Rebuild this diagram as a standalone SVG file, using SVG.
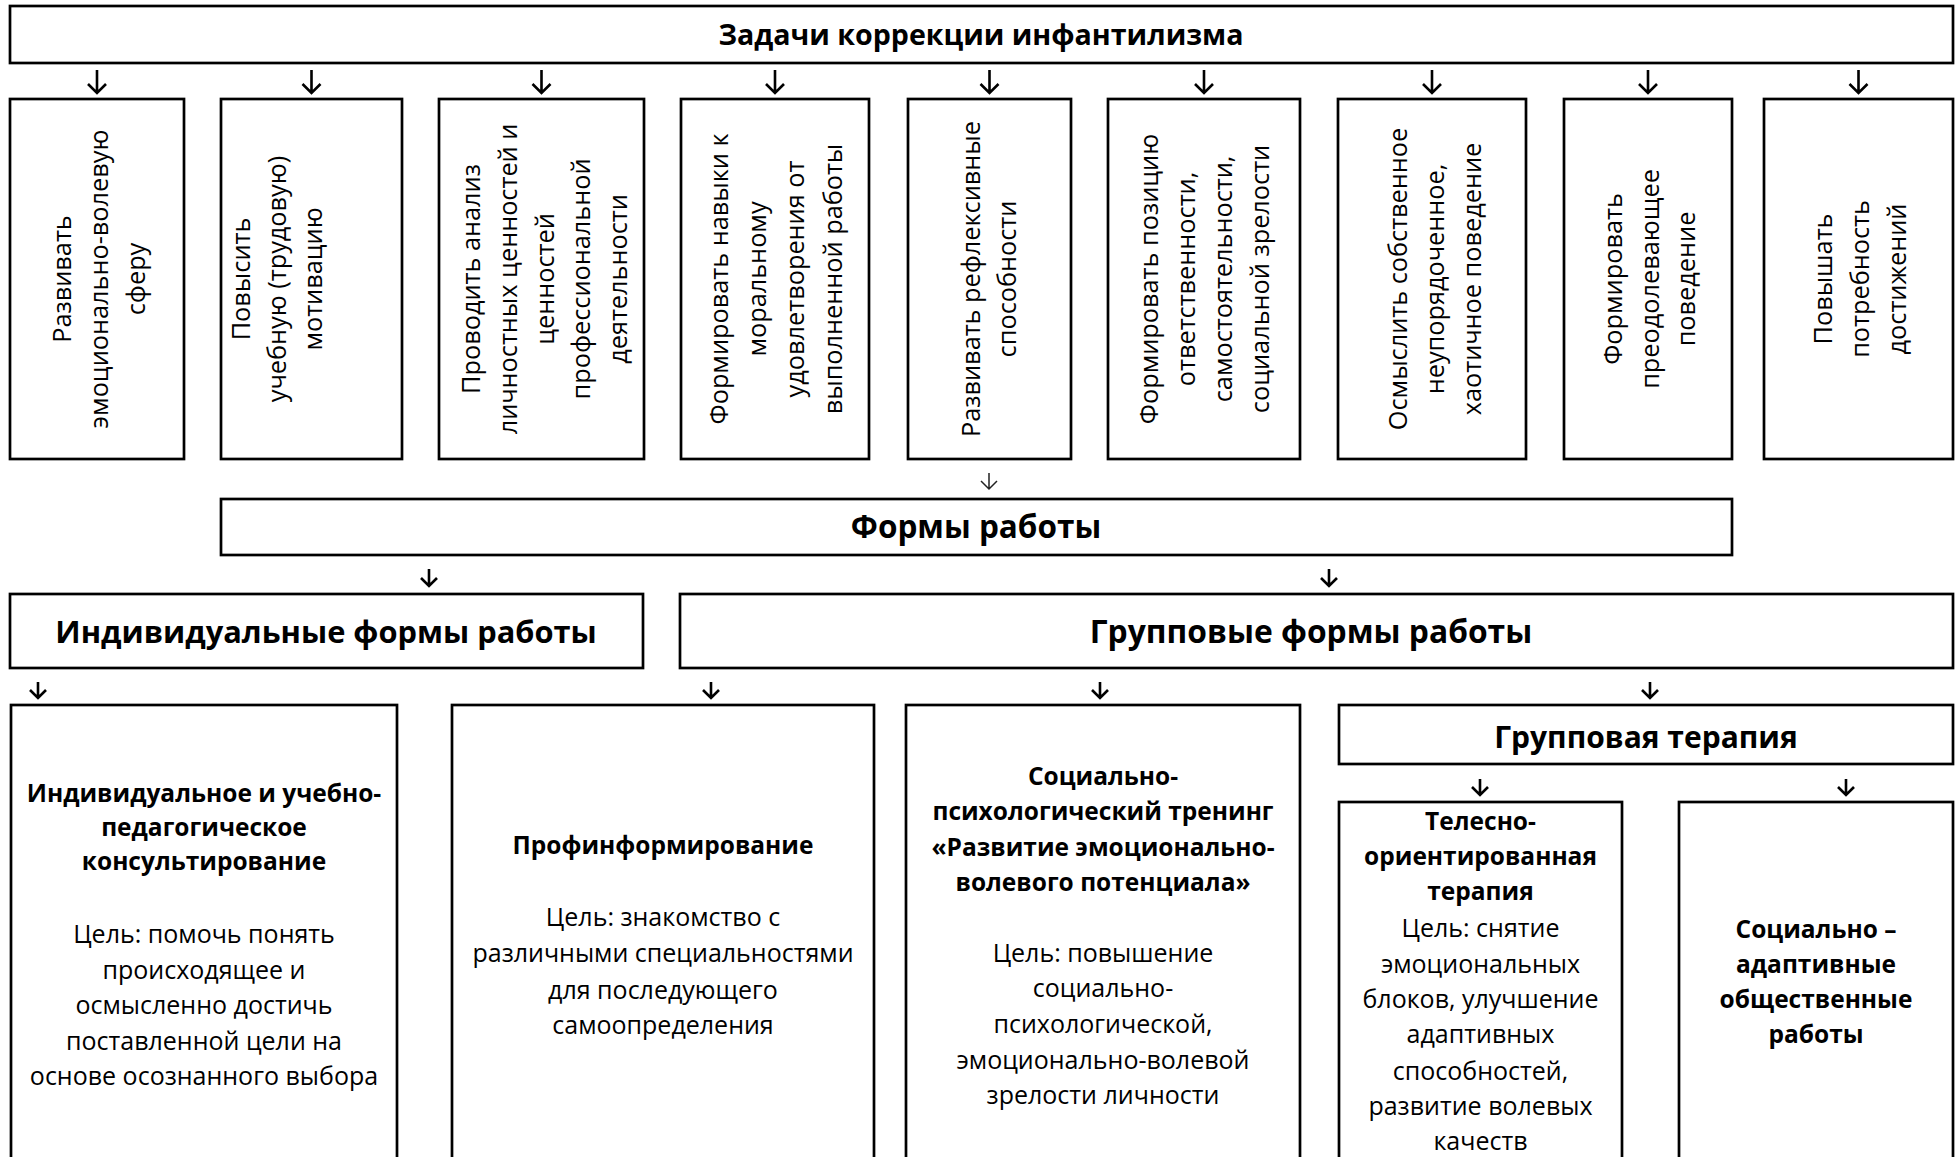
<svg xmlns="http://www.w3.org/2000/svg" width="1955" height="1157" viewBox="0 0 1955 1157">
<style>
.box{fill:#fff;stroke:#000;stroke-width:2.7}
.h{font-family:"Open Sans","Liberation Sans",sans-serif;font-weight:700;text-anchor:middle;fill:#000}
.b{font-family:"Open Sans","Liberation Sans",sans-serif;font-weight:700;font-size:24.5px;text-anchor:middle;fill:#000}
.r{font-family:"Open Sans","Liberation Sans",sans-serif;font-weight:400;font-size:25px;text-anchor:middle;fill:#000}
.v{font-family:"Open Sans","Liberation Sans",sans-serif;font-weight:400;font-size:25.3px;text-anchor:middle;fill:#000}
.arr{fill:none;stroke:#000;stroke-width:2.6}
.thin{fill:none;stroke:#222;stroke-width:1.5}
</style>
<rect width="1955" height="1157" fill="#fff"/>

<g id="title">
<rect class="box" x="10" y="6" width="1943" height="57"/>
<text class="h" x="981" y="45" font-size="28.6">Задачи коррекции инфантилизма</text>
</g>

<g id="task1">
<rect class="box" x="10" y="99" width="174" height="360"/>
<text class="v" transform="translate(0,279) rotate(-90)"><tspan x="0" y="71">Развивать</tspan><tspan x="0" y="108">эмоционально-волевую</tspan><tspan x="0" y="145">сферу</tspan></text>
</g>
<g id="task2">
<rect class="box" x="221" y="99" width="181" height="360"/>
<text class="v" transform="translate(0,279) rotate(-90)"><tspan x="0" y="250">Повысить</tspan><tspan x="0" y="286">учебную (трудовую)</tspan><tspan x="0" y="322">мотивацию</tspan></text>
</g>
<g id="task3">
<rect class="box" x="439" y="99" width="205" height="360"/>
<text class="v" transform="translate(0,279) rotate(-90)"><tspan x="0" y="480">Проводить анализ</tspan><tspan x="0" y="517">личностных ценностей и</tspan><tspan x="0" y="554">ценностей</tspan><tspan x="0" y="590">профессиональной</tspan><tspan x="0" y="627">деятельности</tspan></text>
</g>
<g id="task4">
<rect class="box" x="681" y="99" width="188" height="360"/>
<text class="v" transform="translate(0,279) rotate(-90)"><tspan x="0" y="728">Формировать навыки к</tspan><tspan x="0" y="766">моральному</tspan><tspan x="0" y="804">удовлетворения от</tspan><tspan x="0" y="842">выполненной работы</tspan></text>
</g>
<g id="task5">
<rect class="box" x="908" y="99" width="163" height="360"/>
<text class="v" transform="translate(0,279) rotate(-90)"><tspan x="0" y="980">Развивать рефлексивные</tspan><tspan x="0" y="1016">способности</tspan></text>
</g>
<g id="task6">
<rect class="box" x="1108" y="99" width="192" height="360"/>
<text class="v" transform="translate(0,279) rotate(-90)"><tspan x="0" y="1158">Формировать позицию</tspan><tspan x="0" y="1195">ответственности,</tspan><tspan x="0" y="1232">самостоятельности,</tspan><tspan x="0" y="1269">социальной зрелости</tspan></text>
</g>
<g id="task7">
<rect class="box" x="1338" y="99" width="188" height="360"/>
<text class="v" transform="translate(0,279) rotate(-90)"><tspan x="0" y="1407">Осмыслить собственное</tspan><tspan x="0" y="1444">неупорядоченное,</tspan><tspan x="0" y="1481">хаотичное поведение</tspan></text>
</g>
<g id="task8">
<rect class="box" x="1564" y="99" width="168" height="360"/>
<text class="v" transform="translate(0,279) rotate(-90)"><tspan x="0" y="1622">Формировать</tspan><tspan x="0" y="1659">преодолевающее</tspan><tspan x="0" y="1695">поведение</tspan></text>
</g>
<g id="task9">
<rect class="box" x="1764" y="99" width="189" height="360"/>
<text class="v" transform="translate(0,279) rotate(-90)"><tspan x="0" y="1832">Повышать</tspan><tspan x="0" y="1869">потребность</tspan><tspan x="0" y="1906">достижений</tspan></text>
</g>

<g id="forms">
<rect class="box" x="221" y="499" width="1511" height="56"/>
<text class="h" x="976" y="538" font-size="31.5">Формы работы</text>
</g>
<g id="individual">
<rect class="box" x="10" y="594" width="633" height="74"/>
<text class="h" x="326" y="643" font-size="30.8">Индивидуальные формы работы</text>
</g>
<g id="group">
<rect class="box" x="680" y="594" width="1273" height="74"/>
<text class="h" x="1311" y="643" font-size="31.8">Групповые формы работы</text>
</g>

<g id="consult">
<rect class="box" x="11" y="705" width="386" height="500"/>
<text class="b"><tspan x="204" y="802">Индивидуальное и учебно-</tspan><tspan x="204" y="836">педагогическое</tspan><tspan x="204" y="870">консультирование</tspan></text>
<text class="r"><tspan x="204" y="943">Цель: помочь понять</tspan><tspan x="204" y="979">происходящее и</tspan><tspan x="204" y="1014">осмысленно достичь</tspan><tspan x="204" y="1050">поставленной цели на</tspan><tspan x="204" y="1085">основе осознанного выбора</tspan></text>
</g>
<g id="profinfo">
<rect class="box" x="452" y="705" width="422" height="500"/>
<text class="b" x="663" y="854">Профинформирование</text>
<text class="r"><tspan x="663" y="926">Цель: знакомство с</tspan><tspan x="663" y="962">различными специальностями</tspan><tspan x="663" y="999">для последующего</tspan><tspan x="663" y="1034">самоопределения</tspan></text>
</g>
<g id="training">
<rect class="box" x="906" y="705" width="394" height="500"/>
<text class="b"><tspan x="1103" y="785">Социально-</tspan><tspan x="1103" y="820">психологический тренинг</tspan><tspan x="1103" y="856">«Развитие эмоционально-</tspan><tspan x="1103" y="891">волевого потенциала»</tspan></text>
<text class="r"><tspan x="1103" y="962">Цель: повышение</tspan><tspan x="1103" y="997">социально-</tspan><tspan x="1103" y="1033">психологической,</tspan><tspan x="1103" y="1069">эмоционально-волевой</tspan><tspan x="1103" y="1104">зрелости личности</tspan></text>
</g>
<g id="grouptherapy">
<rect class="box" x="1339" y="705" width="614" height="59"/>
<text class="h" x="1646" y="748" font-size="30">Групповая терапия</text>
</g>
<g id="body">
<rect class="box" x="1339" y="802" width="283" height="400"/>
<text class="b"><tspan x="1480.5" y="830">Телесно-</tspan><tspan x="1480.5" y="865">ориентированная</tspan><tspan x="1480.5" y="900">терапия</tspan></text>
<text class="r"><tspan x="1480.5" y="937">Цель: снятие</tspan><tspan x="1480.5" y="973">эмоциональных</tspan><tspan x="1480.5" y="1008">блоков, улучшение</tspan><tspan x="1480.5" y="1043">адаптивных</tspan><tspan x="1480.5" y="1080">способностей,</tspan><tspan x="1480.5" y="1115">развитие волевых</tspan><tspan x="1480.5" y="1150">качеств</tspan></text>
</g>
<g id="social">
<rect class="box" x="1679" y="802" width="274" height="400"/>
<text class="b"><tspan x="1816" y="938">Социально –</tspan><tspan x="1816" y="973">адаптивные</tspan><tspan x="1816" y="1008">общественные</tspan><tspan x="1816" y="1043">работы</tspan></text>
</g>

<g id="connectors">
<path class="arr" d="M97 70V93M88 84L97 93L106 84"/>
<path class="arr" d="M311.5 70V93M302.5 84L311.5 93L320.5 84"/>
<path class="arr" d="M541.5 70V93M532.5 84L541.5 93L550.5 84"/>
<path class="arr" d="M775 70V93M766 84L775 93L784 84"/>
<path class="arr" d="M989.5 70V93M980.5 84L989.5 93L998.5 84"/>
<path class="arr" d="M1204 70V93M1195 84L1204 93L1213 84"/>
<path class="arr" d="M1432 70V93M1423 84L1432 93L1441 84"/>
<path class="arr" d="M1648 70V93M1639 84L1648 93L1657 84"/>
<path class="arr" d="M1858.5 70V93M1849.5 84L1858.5 93L1867.5 84"/>
<path class="thin" d="M989 473V489M981 481L989 489L997 481"/>
<path class="arr" d="M429 569V586M421 578L429 586L437 578"/>
<path class="arr" d="M1329 569V586M1321 578L1329 586L1337 578"/>
<path class="arr" d="M38 682V698M30 690L38 698L46 690"/>
<path class="arr" d="M711 682V698M703 690L711 698L719 690"/>
<path class="arr" d="M1100 682V698M1092 690L1100 698L1108 690"/>
<path class="arr" d="M1650 682V698M1642 690L1650 698L1658 690"/>
<path class="arr" d="M1480 779V795M1472 787L1480 795L1488 787"/>
<path class="arr" d="M1846 779V795M1838 787L1846 795L1854 787"/>
</g>
</svg>
